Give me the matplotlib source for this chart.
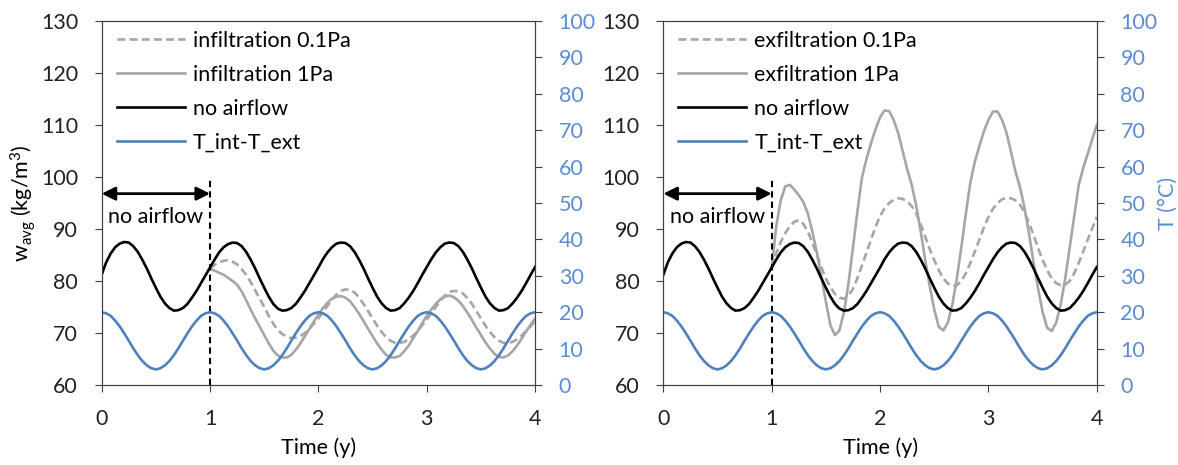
import numpy as np
import matplotlib
matplotlib.use('Agg')
import matplotlib.pyplot as plt

plt.rcParams.update({'font.family': 'Lato', 'font.size': 15.5,
                     'mathtext.fontset': 'custom', 'mathtext.rm': 'Lato',
                     'mathtext.it': 'Lato:italic'})

# half-month samples, 0..4 years
time_y = [k / 24 for k in range(97)]
# airflow starts after the first year
time_flow = time_y[24:]

no_airflow = [81.2, 83.6, 85.3, 86.5, 87.2, 87.5, 87.4, 86.7, 85.6, 84.1, 82.4, 80.5,
              78.7, 77.0, 75.7, 74.8, 74.3, 74.4, 74.8, 75.6, 76.8, 78.1, 79.6, 81.1,
              82.6, 84.1, 85.5, 86.5, 87.1, 87.4, 87.3, 86.7, 85.6, 84.1, 82.4, 80.5,
              78.7, 77.0, 75.6, 74.7, 74.3, 74.4, 74.8, 75.6, 76.8, 78.1, 79.6, 81.1,
              82.6, 84.2, 85.5, 86.5, 87.2, 87.4, 87.3, 86.7, 85.6, 84.1, 82.4, 80.5,
              78.7, 77.0, 75.7, 74.8, 74.3, 74.4, 74.8, 75.7, 76.8, 78.1, 79.6, 81.2,
              82.7, 84.2, 85.5, 86.5, 87.2, 87.4, 87.3, 86.7, 85.6, 84.1, 82.4, 80.5,
              78.7, 77.0, 75.7, 74.8, 74.3, 74.4, 74.8, 75.7, 76.8, 78.1, 79.6, 81.2,
              82.7]

t_diff = [20.0, 19.7, 19.0, 17.7, 16.1, 14.2, 12.2, 10.1, 8.2, 6.6, 5.4, 4.6,
          4.3, 4.6, 5.4, 6.6, 8.2, 10.1, 12.2, 14.2, 16.1, 17.7, 19.0, 19.7,
          20.0, 19.7, 19.0, 17.7, 16.1, 14.2, 12.2, 10.1, 8.2, 6.6, 5.4, 4.6,
          4.3, 4.6, 5.4, 6.6, 8.2, 10.1, 12.2, 14.2, 16.1, 17.7, 19.0, 19.7,
          20.0, 19.7, 19.0, 17.7, 16.1, 14.2, 12.2, 10.1, 8.2, 6.6, 5.4, 4.6,
          4.3, 4.6, 5.4, 6.6, 8.2, 10.1, 12.2, 14.2, 16.1, 17.7, 19.0, 19.7,
          20.0, 19.7, 19.0, 17.7, 16.1, 14.2, 12.2, 10.1, 8.2, 6.6, 5.4, 4.6,
          4.3, 4.6, 5.4, 6.6, 8.2, 10.1, 12.2, 14.2, 16.1, 17.7, 19.0, 19.7,
          20.0]

inf_01 = [82.4, 83.1, 83.6, 83.9, 84.0, 83.7, 83.2, 82.3, 81.2, 79.8, 78.2, 76.6,
          75.0, 73.3, 71.8, 70.6, 69.8, 69.3, 69.0, 69.1, 69.4, 70.0, 70.8, 71.8,
          72.8, 74.0, 75.2, 76.4, 77.4, 78.1, 78.4, 78.3, 77.8, 76.8, 75.6, 74.2,
          72.8, 71.4, 70.2, 69.2, 68.5, 68.1, 68.1, 68.3, 68.8, 69.5, 70.4, 71.5,
          72.6, 73.8, 75.0, 76.2, 77.2, 77.9, 78.1, 78.0, 77.6, 76.7, 75.6, 74.2,
          72.8, 71.4, 70.2, 69.2, 68.5, 68.1, 68.1, 68.3, 68.8, 69.5, 70.4, 71.3,
          72.3]

inf_1 = [82.3, 82.0, 81.6, 81.2, 80.6, 80.0, 79.3, 78.0, 76.3, 74.5, 72.8, 71.2,
         69.6, 68.0, 66.6, 65.7, 65.3, 65.3, 65.8, 66.8, 68.0, 69.4, 70.8, 72.2,
         73.6, 74.8, 75.8, 76.6, 77.0, 77.1, 76.8, 76.1, 75.0, 73.7, 72.3, 70.8,
         69.4, 68.0, 66.8, 65.8, 65.3, 65.3, 65.6, 66.5, 67.6, 69.0, 70.4, 71.9,
         73.3, 74.5, 75.6, 76.5, 77.0, 77.2, 76.9, 76.2, 75.2, 73.9, 72.5, 71.0,
         69.6, 68.2, 67.0, 66.0, 65.4, 65.3, 65.7, 66.5, 67.6, 68.9, 70.3, 71.6,
         72.8]

exf_01 = [82.5, 85.3, 87.5, 89.2, 90.5, 91.4, 91.7, 91.0, 89.5, 87.4, 85.0, 82.6,
          80.5, 78.8, 77.5, 76.8, 76.6, 77.2, 78.5, 80.6, 83.0, 85.5, 88.0, 90.4,
          92.5, 94.0, 95.0, 95.6, 95.9, 95.8, 95.3, 94.4, 93.0, 90.9, 88.5, 86.1,
          84.0, 82.1, 80.5, 79.5, 79.0, 79.2, 80.0, 81.5, 83.5, 85.7, 88.0, 90.3,
          92.3, 93.9, 95.0, 95.7, 96.0, 95.9, 95.5, 94.6, 93.2, 91.1, 88.8, 86.3,
          84.0, 82.1, 80.5, 79.6, 79.2, 79.3, 80.0, 81.5, 83.5, 85.7, 88.0, 90.2,
          92.3]

exf_1 = [82.5, 90.5, 95.5, 98.2, 98.5, 97.6, 96.5, 95.2, 93.0, 89.5, 85.5, 80.8,
         76.0, 71.5, 69.6, 70.5, 74.0, 79.5, 86.5, 93.5, 100.0, 103.5, 106.5, 109.2,
         111.5, 112.8, 112.7, 111.0, 108.5, 105.0, 101.5, 98.5, 94.5, 89.5, 84.0, 79.0,
         74.5, 71.2, 70.5, 72.0, 75.5, 80.5, 86.5, 93.0, 99.0, 103.0, 106.0, 108.8,
         111.0, 112.6, 112.6, 111.0, 108.5, 104.8, 101.0, 98.0, 94.0, 89.0, 83.5, 78.5,
         74.0, 71.0, 70.4, 72.0, 75.5, 80.5, 86.5, 92.5, 98.5, 101.8, 104.5, 107.3,
         110.0]

GRAY = '#a6a6a6'
BLUE = '#4f81bd'
TBLUE = '#5b8dd3'
SPINE = '#404040'

fig = plt.figure(figsize=(11.78, 4.65), dpi=100)

panels = [(0.0863, inf_01, inf_1, 'infiltration'),
          (0.5631, exf_01, exf_1, 'exfiltration')]

for i, (left, s01, s1, name) in enumerate(panels):
    ax = fig.add_axes([left, 0.172, 0.368, 0.7828])
    ax.plot(time_flow, s01, color=GRAY, lw=1.9, ls=(0, (3, 1.6)), label=name + ' 0.1Pa')
    ax.plot(time_flow, s1, color=GRAY, lw=1.9, label=name + ' 1Pa')
    ax.plot(time_y, no_airflow, color='black', lw=1.9, label='no airflow')

    # period without airflow
    ax.plot([1, 1], [60, 100], color='black', lw=1.5, ls=(0, (3, 2)))
    ax.annotate('', xy=(1, 96.8), xytext=(0, 96.8),
                arrowprops=dict(arrowstyle='<|-|>', color='black', lw=2,
                                mutation_scale=20, shrinkA=0, shrinkB=0))
    ax.text(0.5, 92.4, 'no airflow', ha='center', va='center')

    ax.set_xlim(0, 4)
    ax.set_ylim(60, 130)
    ax.set_xticks(range(5))
    ax.set_yticks(range(60, 131, 10))
    ax.tick_params(direction='out', length=5, pad=12, colors=SPINE, labelcolor='#222222')
    ax.set_xlabel('Time (y)', labelpad=6)
    if i == 0:
        ax.set_ylabel(r'w$_{\mathrm{avg}}$ (kg/m$^{3}$)', labelpad=2)

    ax2 = ax.twinx()
    ax2.plot(time_y, t_diff, color=BLUE, lw=1.9, label='T_int-T_ext')
    ax2.set_ylim(0, 100)
    ax2.set_yticks(range(0, 101, 10))
    ax2.tick_params(direction='out', length=5, pad=12, colors=SPINE, labelcolor=TBLUE)
    if i == 1:
        ax2.set_ylabel('T (°C)', color=TBLUE, labelpad=0)

    for a in (ax, ax2):
        for s in a.spines.values():
            s.set_color(SPINE)

    h1, l1 = ax.get_legend_handles_labels()
    h2, l2 = ax2.get_legend_handles_labels()
    ax2.legend(h1 + h2, l1 + l2, loc='upper left', bbox_to_anchor=(0.0, 1.014),
               frameon=False, handlelength=3.16, handletextpad=0.37,
               labelspacing=0.64, borderaxespad=0.3)

fig.savefig('out.png', dpi=100)
